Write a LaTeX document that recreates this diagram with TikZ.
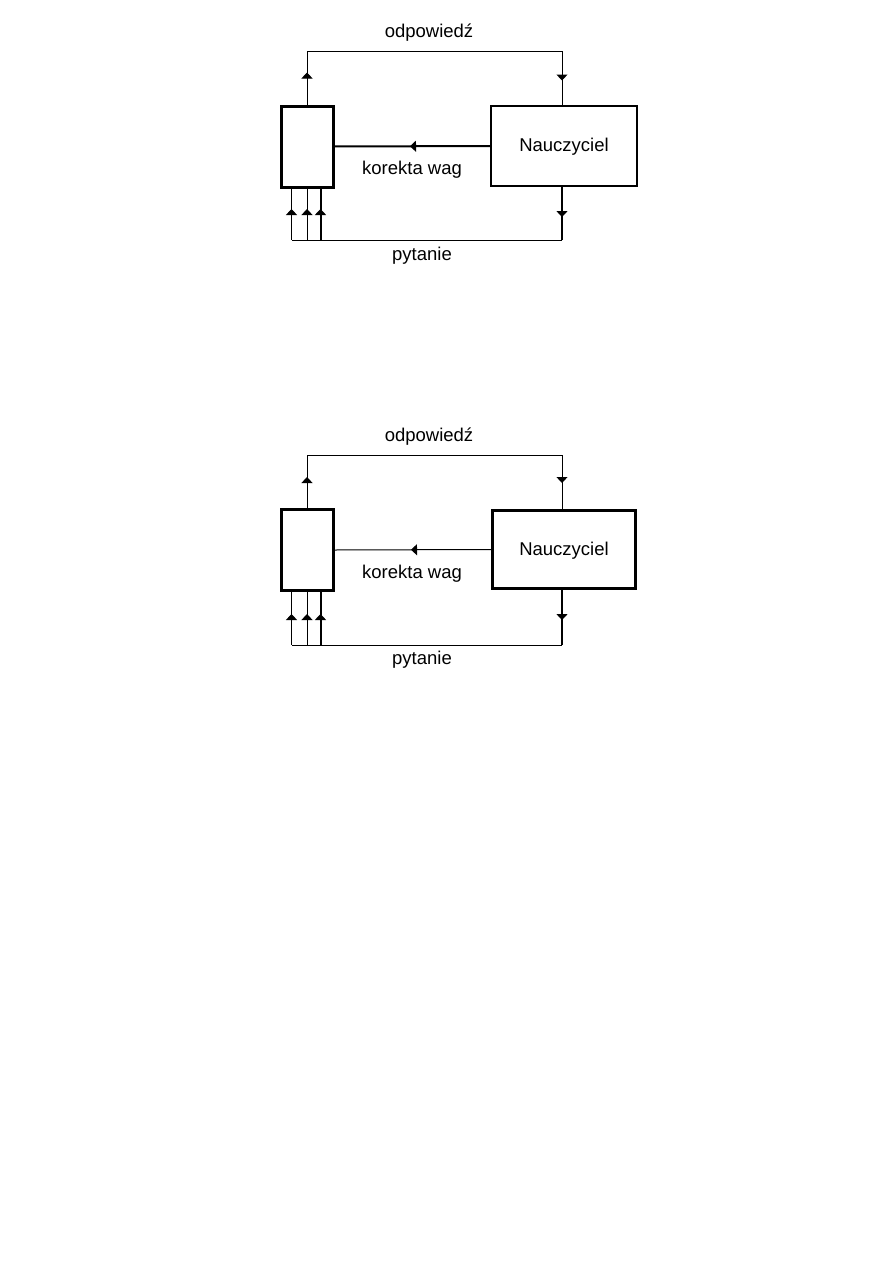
\documentclass[tikz,border=0pt]{standalone}
\usepackage{fontspec}
\setmainfont{Liberation Sans}
\usetikzlibrary{arrows.meta,decorations.markings,calc}
\tikzset{
  box/.style={draw,rectangle,inner sep=0pt},
  lbl/.style={inner sep=0pt,font=\fontsize{18.5}{22}\selectfont},
  thin line/.style={line width=1pt},
  markat/.style={postaction={decorate,decoration={markings,mark=at position #1 with {\arrow{Triangle[width=11pt,length=6pt]}}}}},
}
\begin{document}
\begin{tikzpicture}[x=1pt,y=-1pt]
\useasboundingbox (0,0) rectangle (893,1263);
% ---------- first copy ----------
\node[box,line width=3pt,minimum width=52pt,minimum height=81pt] (netA) at (307,146.5) {};
\node[box,line width=2pt,minimum width=146pt,minimum height=80pt] (teachA) at (564,146) {};
\node[lbl] (nA) at (564,147) {Nauczyciel};
\node[lbl] (odpA) at (429,33) {odpowied\'z};
\node[lbl] (korA) at (412,170) {korekta wag};
\node[lbl] (pytA) at (422,256) {pytanie};
\coordinate (tnA) at ($(teachA.north)+(-2,0)$);
\coordinate (tsA) at ($(teachA.south)+(-2,0)$);
\coordinate (tlA) at (netA.north |- 0,52);
\coordinate (trA) at (tnA |- 0,52);
\draw[thin line,markat=32pt,markat=336pt] (netA.north) -- (tlA) -- (trA) -- (tnA);
\draw[line width=2pt,markat=80pt] (teachA.west) -- (netA.east);
\coordinate (brA) at (tsA |- 0,240);
\coordinate (p1A) at ($(netA.south west)+(12,0)$);
\coordinate (p3A) at ($(netA.south west)+(41,0)$);
\coordinate (b1A) at (p1A |- 0,240);
\coordinate (b2A) at (netA.south |- 0,240);
\coordinate (b3A) at (p3A |- 0,240);
\draw[line width=2pt,markat=30pt] (tsA) -- (brA);
\draw[thin line] (brA) -- (b1A);
\draw[thin line,markat=31pt] (b1A) -- (p1A);
\draw[thin line,markat=31pt] (b2A) -- (netA.south);
\draw[line width=2pt,markat=31pt] (b3A) -- (p3A);
% ---------- second copy ----------
\node[box,line width=3pt,minimum width=52pt,minimum height=81pt] (netB) at (307,550) {};
\node[box,line width=3pt,minimum width=143pt,minimum height=78pt] (teachB) at (564,549.5) {};
\node[lbl] (nB) at (564,551) {Nauczyciel};
\node[lbl] (odpB) at (429,437) {odpowied\'z};
\node[lbl] (korB) at (412,574) {korekta wag};
\node[lbl] (pytB) at (422,660) {pytanie};
\coordinate (tnB) at ($(teachB.north)+(-2,0)$);
\coordinate (tsB) at ($(teachB.south)+(-2,0)$);
\coordinate (tlB) at (netB.north |- 0,455);
\coordinate (trB) at (tnB |- 0,455);
\draw[thin line,markat=31pt,markat=336pt] (netB.north) -- (tlB) -- (trB) -- (tnB);
\draw[thin line,markat=80pt] (teachB.west) -- (netB.east);
\coordinate (brB) at (tsB |- 0,645);
\coordinate (p1B) at ($(netB.south west)+(12,0)$);
\coordinate (p3B) at ($(netB.south west)+(41,0)$);
\coordinate (b1B) at (p1B |- 0,645);
\coordinate (b2B) at (netB.south |- 0,645);
\coordinate (b3B) at (p3B |- 0,645);
\draw[line width=2pt,markat=30pt] (tsB) -- (brB);
\draw[thin line] (brB) -- (b1B);
\draw[thin line,markat=31pt] (b1B) -- (p1B);
\draw[thin line,markat=31pt] (b2B) -- (netB.south);
\draw[line width=2pt,markat=31pt] (b3B) -- (p3B);
\end{tikzpicture}
\end{document}
